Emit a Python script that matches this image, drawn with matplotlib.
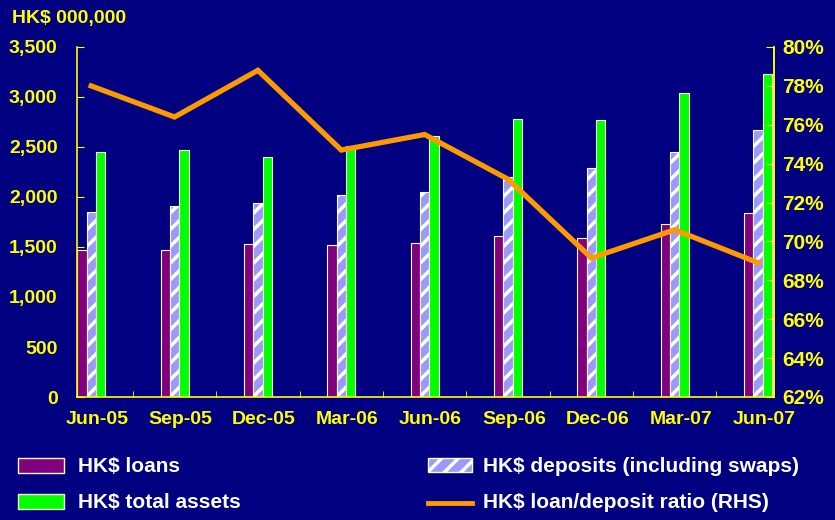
import matplotlib
matplotlib.use("Agg")
import matplotlib.pyplot as plt
import matplotlib.transforms as mtransforms
from matplotlib.patches import Rectangle
from matplotlib.lines import Line2D
import numpy as np

categories = ["Jun-05", "Sep-05", "Dec-05", "Mar-06", "Jun-06", "Sep-06", "Dec-06", "Mar-07", "Jun-07"]
loans = [1470, 1470, 1530, 1520, 1540, 1610, 1590, 1730, 1840]
deposits = [1850, 1910, 1940, 2020, 2050, 2200, 2290, 2450, 2670]
total_assets = [2450, 2470, 2400, 2510, 2610, 2780, 2770, 3040, 3230]
ratio = [78.0, 76.4, 78.8, 74.7, 75.5, 73.2, 69.15, 70.6, 68.9]

left_ticks = [0, 500, 1000, 1500, 2000, 2500, 3000, 3500]
right_ticks = [62, 64, 66, 68, 70, 72, 74, 76, 78, 80]

BG = "#000080"
YEL = "#FFFF00"
plt.rcParams['font.family'] = ['Liberation Sans', 'DejaVu Sans']
plt.rcParams['hatch.linewidth'] = 2.5

W, H = 835, 520
fig = plt.figure(figsize=(W / 100, H / 100), dpi=100, facecolor=BG)
ax = fig.add_axes([77 / W, (H - 397) / H, (774 - 77) / W, 350 / H])
ax.set_facecolor(BG)

x = np.arange(len(categories))
bw = 0.112
ax.bar(x - bw, loans, width=bw, color="#800080", edgecolor="#FFFFCC", linewidth=0.8, zorder=2)
ax.bar(x, deposits, width=bw, color="#9999FF", edgecolor="#FFFFCC", linewidth=0.8, zorder=2)
ax.bar(x, deposits, width=bw, color="none", edgecolor="white", hatch="//", linewidth=0, zorder=2.1)
ax.bar(x + bw, total_assets, width=bw, color="#00FF00", edgecolor="#FFFFCC", linewidth=0.8, zorder=2)

ax.set_xlim(-0.17, 8.19)
ax.set_ylim(0, 3500)
ax.set_yticks(left_ticks)
ax.set_yticklabels([f"{v:,}" for v in left_ticks])
ax.set_xticks(x)
ax.set_xticklabels(categories)
ax.set_xticks(x[:-1] + 0.5, minor=True)

for s in ["top"]:
    ax.spines[s].set_visible(False)
for s in ["left", "bottom", "right"]:
    ax.spines[s].set_color(YEL)
    ax.spines[s].set_linewidth(1.2)

ax.tick_params(axis="y", direction="in", length=5, color=YEL, labelcolor=YEL, labelsize=14, pad=14)
ax.tick_params(axis="x", which="major", length=0, labelcolor=YEL, labelsize=14, pad=10)
ax.tick_params(axis="x", which="minor", direction="in", length=4, color=YEL)
for lab in ax.get_yticklabels() + ax.get_xticklabels():
    lab.set_fontweight("bold")
offset = mtransforms.ScaledTranslation(6 / 100, 0, fig.dpi_scale_trans)
for lab in ax.get_xticklabels():
    lab.set_transform(lab.get_transform() + offset)

ax2 = ax.twinx()
ax2.set_ylim(62, 80)
ax2.set_yticks(right_ticks)
ax2.set_yticklabels([f"{v}%" for v in right_ticks])
ax2.plot(x, ratio, color="#FF9900", linewidth=3.8, zorder=3, solid_joinstyle="miter")
for s in ["top", "left", "bottom"]:
    ax2.spines[s].set_visible(False)
ax2.spines["right"].set_color(YEL)
ax2.spines["right"].set_linewidth(1.2)
ax2.tick_params(axis="y", direction="in", length=6, color=YEL, labelcolor=YEL, labelsize=15, pad=6)
for lab in ax2.get_yticklabels():
    lab.set_fontweight("bold")

fig.text(12 / W, 1 - 19 / H, "HK$ 000,000", color=YEL, fontsize=14, fontweight="bold", va="center", ha="left")

# Legend
leg_font = dict(color="white", fontsize=15, fontweight="bold", va="center", ha="left")
def patch(x0, y0, w, h, **kw):
    fig.patches.append(Rectangle((x0 / W, 1 - (y0 + h) / H), w / W, h / H, transform=fig.transFigure, **kw))

patch(18, 458, 46, 15, facecolor="#800080", edgecolor="#FFFFCC", linewidth=1)
fig.text(78 / W, 1 - 466 / H, "HK$ loans", **leg_font)
patch(18, 494, 46, 15, facecolor="#00FF00", edgecolor="#FFFFCC", linewidth=1)
fig.text(78 / W, 1 - 503 / H, "HK$ total assets", **leg_font)
patch(428, 458, 44, 14, facecolor="#9999FF", edgecolor="#FFFFCC", linewidth=1)
patch(428, 458, 44, 14, facecolor="none", edgecolor="white", hatch="//", linewidth=0)
fig.text(483 / W, 1 - 466 / H, "HK$ deposits (including swaps)", **leg_font)
fig.lines.append(Line2D([428 / W, 472 / W], [1 - 503 / H, 1 - 503 / H], transform=fig.transFigure,
                        color="#FF9900", linewidth=3.5))
fig.text(483 / W, 1 - 503 / H, "HK$ loan/deposit ratio (RHS)", **leg_font)

fig.savefig("out.png", dpi=100, facecolor=BG)
